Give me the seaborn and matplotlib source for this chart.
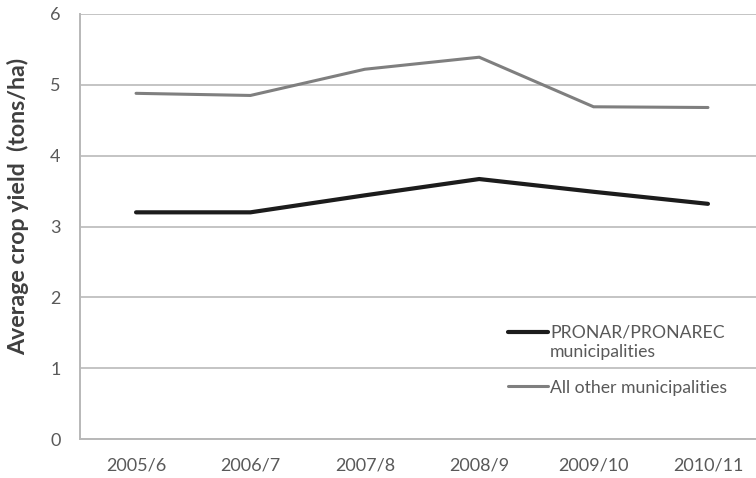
import matplotlib
matplotlib.use("Agg")
import matplotlib.pyplot as plt
from matplotlib.lines import Line2D
import seaborn as sns
import pandas as pd
import numpy as np

seasons = ["2005/6", "2006/7", "2007/8", "2008/9", "2009/10", "2010/11"]
pronar_yield = [3.20, 3.20, 3.44, 3.67, 3.49, 3.32]
other_yield = [4.88, 4.85, 5.22, 5.39, 4.69, 4.68]
series_names = ["PRONAR/PRONAREC\nmunicipalities", "All other municipalities"]
y_ticks = [0, 1, 2, 3, 4, 5, 6]

df = pd.DataFrame({
    "season": seasons * 2,
    "yield": pronar_yield + other_yield,
    "group": [series_names[0]] * len(seasons) + [series_names[1]] * len(seasons),
})
df["pos"] = list(range(len(seasons))) * 2

sns.set_theme(style="white")
plt.rcParams["font.family"] = ["Lato", "DejaVu Sans"]

fig = plt.figure(figsize=(7.56, 4.78), dpi=100)
ax = fig.add_axes([80 / 756, 39 / 478, 676 / 756, 425 / 478])

palette = {series_names[0]: "#1c1c1c", series_names[1]: "#7f7f7f"}
widths = [3.0, 2.2]
sns.lineplot(data=df, x="pos", y="yield", hue="group", palette=palette,
             ax=ax, legend=False, sort=False)
for line, lw in zip(ax.get_lines(), widths):
    line.set_linewidth(lw)
    line.set_solid_joinstyle("miter")

ax.set_xlim(-0.49, 5.42)
ax.set_ylim(0, 6)
ax.set_yticks(y_ticks)
ax.set_xticks(range(len(seasons)))
ax.set_xticklabels(seasons)
ax.yaxis.grid(True, color="#c4c4c4", linewidth=1.4)
ax.xaxis.grid(False)
ax.set_axisbelow(True)

for side in ["top", "right"]:
    ax.spines[side].set_visible(False)
for side in ["left", "bottom"]:
    ax.spines[side].set_color("#b8b8b8")
    ax.spines[side].set_linewidth(1.4)

ax.tick_params(axis="both", length=0, labelsize=13, labelcolor="#595959")
ax.tick_params(axis="y", pad=14)
ax.tick_params(axis="x", pad=13)

ax.set_xlabel("")
ax.set_ylabel("")
fig.text(18 / 756, 1 - 206 / 478, "Average crop yield  (tons/ha)", rotation=90,
         ha="center", va="center", fontsize=16.7, fontweight="bold", color="#3f3f3f")

handles = [Line2D([], [], color=palette[n], lw=w) for n, w in zip(series_names, widths)]
leg = fig.legend(handles, series_names, loc="upper left",
                 bbox_to_anchor=(508 / 756, 1 - 325 / 478), frameon=False,
                 borderpad=0, borderaxespad=0, handlelength=2.27, handletextpad=0.12,
                 labelspacing=1.13, fontsize=12.7)
for t in leg.get_texts():
    t.set_color("#595959")

# put the two-line entry's swatch level with its first line of text
first = leg.legend_handles[0]
first.set_ydata(np.asarray(first.get_ydata(), dtype=float) + 7.9)

fig.savefig("out.png", dpi=100)
